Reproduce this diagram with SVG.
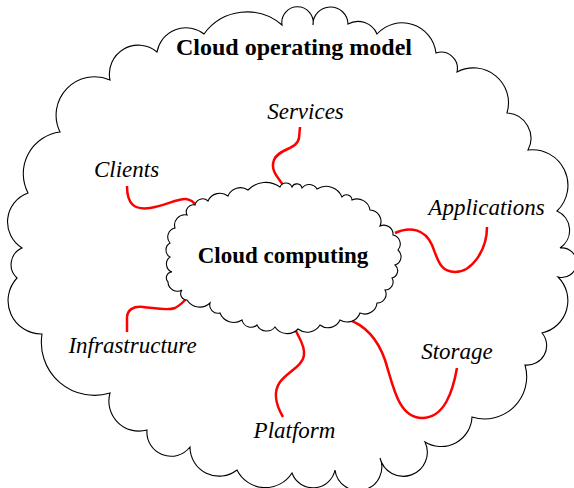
<svg xmlns="http://www.w3.org/2000/svg" width="574" height="488" viewBox="0 0 574 488">
  <style>
    .cloud { fill: #ffffff; stroke: #000000; stroke-width: 1.1; stroke-linejoin: miter; }
    .title { font-family: "Liberation Serif", "Times New Roman", serif; font-weight: bold; fill: #000000; text-anchor: middle; }
    .label { font-family: "Liberation Serif", "Times New Roman", serif; font-style: italic; font-size: 23px; fill: #000000; text-anchor: middle; }
    .link { fill: none; stroke: #ff0000; stroke-width: 2.5; stroke-linecap: butt; }
  </style>
  <rect width="574" height="488" fill="#ffffff"/>

  <!-- outer cloud -->
  <g id="cloud-operating-model">
    <path class="cloud" d="M157,52 A29.3,29.3 0 0 1 204,34 A53.2,53.2 0 0 1 282,25 A15.7,15.7 0 1 1 313,25 A17.5,17.5 0 1 1 348,24 A20.7,20.7 0 0 1 377,34 A34,34 0 0 1 436,53 A16.3,16.3 0 0 1 457,72 A35,35 0 0 1 507,113 A25.3,25.3 0 0 1 528,150 A35.6,35.6 0 0 1 557,211 A21.1,21.1 0 0 1 560,248 A14.8,14.8 0 1 1 558,277 A33.2,33.2 0 0 1 542,333 A19.5,19.5 0 0 1 525,365 A42.1,42.1 0 0 1 472,417 A30.9,30.9 0 0 1 425,442 A24,24 0 1 1 380,458 A23.5,23.5 0 1 1 335,470 A22.4,22.4 0 0 1 292,473 A31.6,31.6 0 0 1 237,470 A29.1,29.1 0 0 1 190,447 A24.1,24.1 0 0 1 147,430 A30,30 0 0 1 110,393 A53,53 0 0 1 42,334 A33.3,33.3 0 0 1 17,278 A18.1,18.1 0 0 1 22,248 A30.7,30.7 0 0 1 28,193 A42,42 0 0 1 60,132 A38.4,38.4 0 0 1 110,80 A28.9,28.9 0 0 1 157,52 Z"/>
    <text class="title" x="294" y="55" font-size="24">Cloud operating model</text>
  </g>

  <!-- connectors -->
  <g id="connectors">
    <path class="link" d="M300,127 L299,138 C297,150 279,148 274,160 C270,170 278,178 284,186"/>
    <path class="link" d="M127,186 C127,205 135,210 150,208 C165,206 178,198 186,199 C192,200 195,204 196,206"/>
    <path class="link" d="M395,233 C410,226 425,229 432,245 C438,260 440,272 455,272 C472,272 487,250 487,227"/>
    <path class="link" d="M127,332 L127,318 C127,310 133,306 143,307 C155,308 167,311 175,308 C181,305 185,300 187,298"/>
    <path class="link" d="M283,417 C276,405 273,392 280,382 C287,372 303,366 304,355 C305,345 299,338 296,331"/>
    <path class="link" d="M347,319 C365,325 378,340 385,360 C393,385 398,418 422,418 C445,418 453,390 457,368"/>
  </g>

  <!-- inner cloud -->
  <g id="cloud-computing">
    <path class="cloud" d="M195,205 A7.8,7.8 0 0 1 208,201 A13.1,13.1 0 0 1 228,196 A13.4,13.4 0 0 1 248,190 A24.3,24.3 0 0 1 280,187 A6.5,6.5 0 0 1 292,187 A5.3,5.3 0 0 1 302,188 A9,9 0 0 1 317,189 A17.1,17.1 0 0 1 342,197 A5.6,5.6 0 0 1 352,200 A13.1,13.1 0 0 1 370,210 A11.4,11.4 0 0 1 380,226 A9.2,9.2 0 0 1 393,235 A9.2,9.2 0 0 1 398,250 A8.8,8.8 0 0 1 395,265 A7.5,7.5 0 0 1 392,278 A8,8 0 0 1 385,290 A8.8,8.8 0 0 1 377,303 A12.2,12.2 0 0 1 360,313 A13.7,13.7 0 0 1 340,320 A13.1,13.1 0 0 1 320,325 A15,15 0 0 1 298,329 A14.8,14.8 0 0 1 275,327 A10.7,10.7 0 0 1 257,325 A9.2,9.2 0 0 1 242,320 A14.9,14.9 0 0 1 220,313 A8.2,8.2 0 0 1 210,303 A15,15 0 0 1 187,300 A6.2,6.2 0 0 1 182,290 A9.4,9.4 0 0 1 168,282 A5.9,5.9 0 0 1 172,272 A8.6,8.6 0 0 1 170,257 A8.1,8.1 0 0 1 170,243 A9.2,9.2 0 0 1 175,228 A10.3,10.3 0 0 1 187,215 A7.1,7.1 0 0 1 195,205 Z"/>
    <text class="title" x="283" y="263" font-size="23">Cloud computing</text>
  </g>

  <!-- labels -->
  <g id="services"><text class="label" x="305.5" y="119">Services</text></g>
  <g id="clients"><text class="label" x="126.5" y="177">Clients</text></g>
  <g id="applications"><text class="label" x="486.5" y="215">Applications</text></g>
  <g id="infrastructure"><text class="label" x="132.5" y="353">Infrastructure</text></g>
  <g id="storage"><text class="label" x="457" y="359">Storage</text></g>
  <g id="platform"><text class="label" x="294.5" y="438">Platform</text></g>
</svg>
